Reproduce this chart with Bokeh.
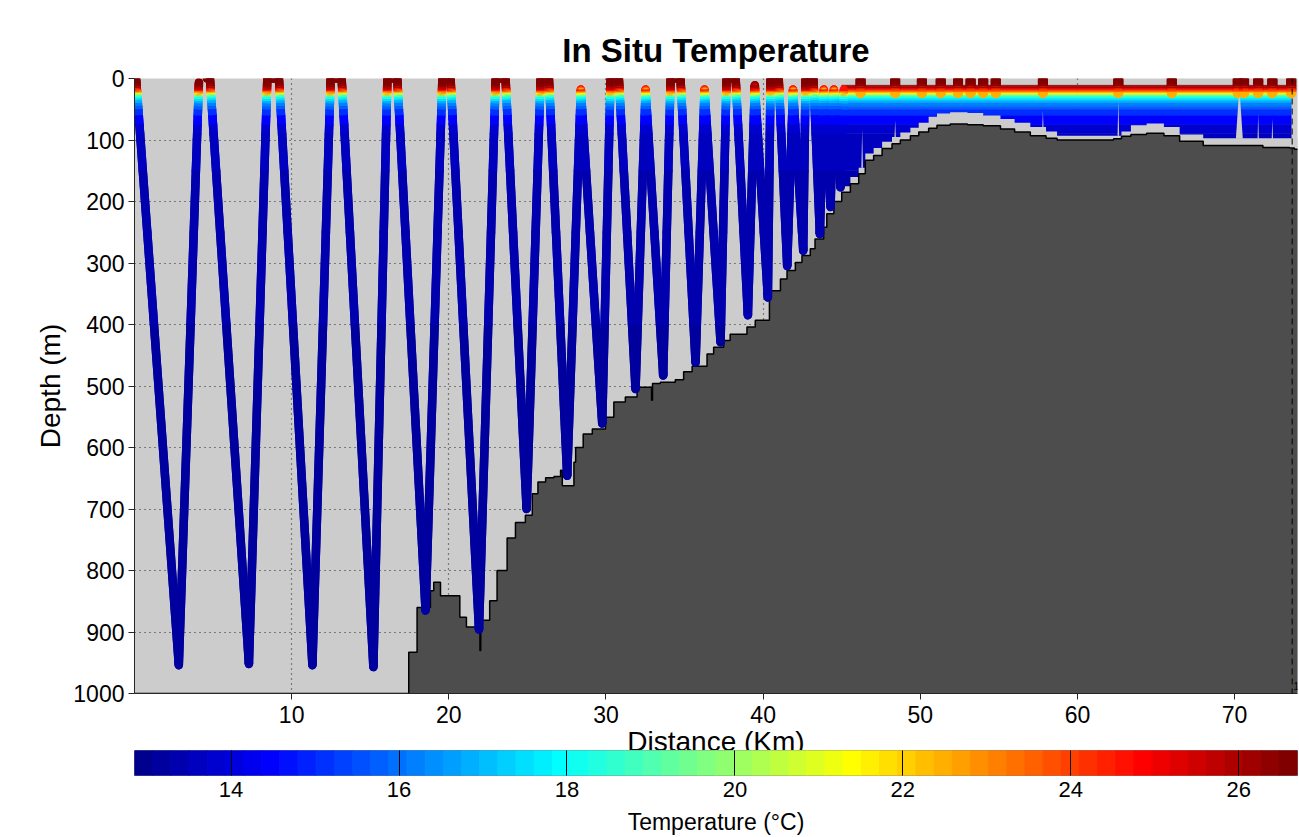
import numpy as np
from bokeh.plotting import figure
from bokeh.models import Range1d, FixedTicker, LinearColorMapper, Span, ColumnDataSource
from bokeh.transform import transform
from bokeh.layouts import column
from bokeh.embed import file_html
from bokeh.resources import INLINE

# ---------------- data ----------------
# temperature profile (depth m -> deg C)
prof_depth = [0, 5, 10, 13, 16, 18, 20, 22, 24, 26, 28, 30, 33, 36, 40, 45, 50, 60, 75, 90, 100, 150, 250, 400, 1000]
prof_temp = [26.8, 26.7, 26.5, 26.2, 25.6, 25.0, 24.2, 23.0, 21.8, 20.6, 19.5, 18.6, 17.8, 17.1, 16.5, 16.0,
             15.6, 14.8, 14.0, 13.75, 13.6, 13.45, 13.35, 13.25, 13.1]

# glider path turning points (distance km, depth m); nan = break
dive_km = [0.10, 2.82, 4.10, np.nan, 4.60, 4.80, 7.28, 8.45, 9.19, 11.32, 12.48, 13.18, 15.20, 16.09, 16.72,
           18.52, 19.59, 20.11, 21.92, 22.98, 23.61, 24.95, 25.84, 26.37, 27.53, 28.40, 29.76, 30.29, 30.82,
           31.88, 32.52, 33.64, 34.11, 34.74, 35.70, 36.27, 37.29, 37.67, 38.25, 39.03, 39.47, 40.30, 40.47,
           40.99, 41.53, 41.90, 42.55, 42.70, 43.20, 43.61, 43.86, 44.29, 44.50, 44.92, 45.13]
dive_depth = [0, 954, 6, np.nan, 0, 0, 952, 0, 0, 954, 0, 0, 957, 0, 0,
              865, 0, 0, 896, 0, 0, 700, 0, 0, 646, 18, 561, 0, 0,
              505, 18, 483, 0, 0, 462, 18, 429, 0, 0, 385, 11, 356, 0,
              0, 305, 18, 280, 0, 0, 253, 18, 209, 18, 177, 18]

# shelf section: continuous profiling band
band_start_km = 45.0
band_end_km = 73.6
band_top_depth = 11
floor_km = [45.0, 45.55, 46.08, 46.5, 47.03, 47.57, 48.2, 48.73, 49.37, 49.9, 50.53, 51.06, 51.9, 53.0, 54.0,
            55.1, 56.0, 57.0, 58.0, 58.7, 62.3, 62.8, 63.4, 64.4, 65.5, 66.5, 68.0, 73.6, 74.1]
floor_depth = [175, 160, 145, 122, 113, 103, 95, 88, 80, 72, 62, 57, 55, 56, 60,
               66, 72, 79, 86, 93, 93, 86, 76, 73, 79, 91, 97, 98, 98]

# surfacings on the shelf
blob_km = [46.2, 48.4, 50.1, 51.3, 52.4, 53.2, 54.0, 54.8, 57.8, 62.6, 66.0, 70.2, 70.6, 71.5, 72.4, 73.6]
blob_depth = 24

# data gaps (spikes) in the shelf band
gap_km = [46.3, 48.4, 57.8, 62.6, 70.3, 71.5, 72.4]
gap_top = [82, 68, 52, 33, 14, 57, 65]
gap_base = [145, 100, 82, 93, 98, 98, 98]
gap_halfwidth = [0.05, 0.05, 0.04, 0.05, 0.22, 0.04, 0.04]

# bathymetry (step, distance km -> depth m)
bathy_km = [0, 17.45, 17.98, 18.83, 19.04, 19.47, 20.70, 21.12, 21.98, 22.03, 22.12, 22.60, 23.07, 23.71,
            24.24, 24.87, 25.31, 25.67, 26.16, 26.69, 27.11, 27.22, 27.96, 28.07, 28.55, 29.13, 29.97,
            30.5, 31.23, 31.98, 32.90, 32.96, 33.46, 34.41, 34.94, 35.48, 36.43, 36.85, 37.49, 37.9,
            38.97, 39.5, 40.4, 41.1, 41.52, 42.05, 42.47, 43.0, 43.3, 43.85, 44.05, 44.5, 45.0, 45.55,
            46.08, 46.5, 47.03, 47.57, 48.2, 48.73, 49.37, 49.9, 50.53, 51.06, 51.9, 53.0, 54.0, 55.1,
            56.0, 57.0, 58.0, 58.7, 62.3, 62.8, 63.4, 64.4, 65.5, 66.5, 68.0, 71.8, 73.5, 73.8, 74.2]
bathy_depth = [1000, 933, 860, 833, 819, 841, 876, 892, 930, 892, 881, 849, 800, 747,
               722, 710, 675, 656, 649, 647, 637, 662, 624, 600, 578, 570, 551,
               526, 518, 502, 523, 496, 494, 490, 477, 468, 448, 437, 426, 416,
               404, 393, 345, 326, 312, 299, 288, 277, 261, 242, 220, 200, 185, 171,
               155, 133, 125, 114, 106, 100, 93, 87, 81, 76, 74, 75, 77, 82,
               87, 93, 97, 100, 98, 94, 91, 89, 93, 102, 109, 112, 113, 115, 115]

marker_km = 73.66
marker_text = "1"

x_ticks = [10, 20, 30, 40, 50, 60, 70]
y_ticks = [0, 100, 200, 300, 400, 500, 600, 700, 800, 900, 1000]
cbar_ticks = [14, 16, 18, 20, 22, 24, 26]
T_LOW, T_HIGH = 12.85, 26.7


# ---------------- helpers ----------------
def jet(m=64):
    n = m // 4
    u = np.concatenate([np.arange(1, n + 1) / n, np.ones(n - 1), np.arange(n, 0, -1) / n])
    g = int(np.ceil(n / 2)) - (1 if m % 4 == 1 else 0) + np.arange(1, len(u) + 1)
    r = g + n
    b = g - n
    J = np.zeros((m, 3))
    k = r <= m
    J[r[k] - 1, 0] = u[k]
    k = g <= m
    J[g[k] - 1, 1] = u[k]
    k = b >= 1
    J[b[k] - 1, 2] = u[k]
    return ["#%02x%02x%02x" % tuple(int(round(c * 255)) for c in row) for row in J]


JET = jet(64)
mapper = LinearColorMapper(palette=JET, low=T_LOW, high=T_HIGH)


def temp_at(d):
    return float(np.interp(d, prof_depth, prof_temp))


def leg_segments(xs, ds):
    out = []
    for i in range(len(xs) - 1):
        x0, d0, x1, d1 = xs[i], ds[i], xs[i + 1], ds[i + 1]
        if any(np.isnan(v) for v in (x0, d0, x1, d1)):
            continue
        if d0 == d1:
            pts = [(x0, d0), (x1, d1)]
        else:
            lo, hi = min(d0, d1), max(d0, d1)
            cuts = sorted([lv for lv in prof_depth if lo < lv < hi], reverse=d0 > d1)
            dd = [d0] + cuts + [d1]
            pts = [(x0 + (x1 - x0) * (d - d0) / (d1 - d0), d) for d in dd]
        for a, b in zip(pts[:-1], pts[1:]):
            out.append((a[0], a[1], b[0], b[1], 0.5 * (temp_at(a[1]) + temp_at(b[1]))))
    return out


segs = leg_segments(dive_km, dive_depth)
blob_segs = []
for k in blob_km:
    blob_segs += leg_segments([k, k], [0, blob_depth])


def seg_source(s):
    return ColumnDataSource(dict(x0=[v[0] for v in s], y0=[v[1] for v in s],
                                 x1=[v[2] for v in s], y1=[v[3] for v in s], t=[v[4] for v in s]))


FONT = "Liberation Sans"

# ---------------- main figure ----------------
p = figure(width=1299, height=768, x_range=Range1d(0, 74.0), y_range=Range1d(1000, 0),
           toolbar_location=None, output_backend="svg",
           min_border_left=134, min_border_right=2, min_border_top=78, min_border_bottom=75)
p.title.text = "In Situ Temperature"
p.title.align = "center"
p.title.text_font = FONT
p.title.text_font_size = "33px"
p.title.text_font_style = "bold"
p.title.text_color = "black"
p.title.standoff = 19
p.background_fill_color = "#cccccc"
p.border_fill_color = "white"
p.outline_line_color = None

p.xaxis.ticker = FixedTicker(ticks=x_ticks)
p.yaxis.ticker = FixedTicker(ticks=y_ticks)
p.xgrid.ticker = FixedTicker(ticks=x_ticks)
p.ygrid.ticker = FixedTicker(ticks=y_ticks)
p.grid.grid_line_color = "#262626"
p.grid.grid_line_dash = "1 4"
p.grid.grid_line_width = 1.2
p.axis.major_label_text_font = FONT
p.axis.major_label_text_font_size = "23px"
p.axis.major_label_text_color = "black"
p.axis.axis_line_color = "#262626"
p.axis.major_tick_line_color = "#262626"
p.axis.major_tick_out = 6
p.axis.major_tick_in = 0
p.axis.minor_tick_line_color = None
p.xaxis.major_label_standoff = 6
p.yaxis.major_label_standoff = 4
p.xaxis.axis_label = "Distance (Km)"
p.yaxis.axis_label = "Depth (m)"
p.axis.axis_label_text_font = FONT
p.axis.axis_label_text_font_size = "28px"
p.axis.axis_label_text_font_style = "normal"
p.axis.axis_label_text_color = "black"
p.xaxis.axis_label_standoff = 0
p.yaxis.axis_label_standoff = 4

# shelf band (layers of the profile)
edges = [band_top_depth] + [lv for lv in prof_depth if band_top_depth < lv < 200] + [200]
band = ColumnDataSource(dict(top=edges[:-1], bottom=edges[1:],
                             t=[0.5 * (temp_at(a) + temp_at(b)) for a, b in zip(edges[:-1], edges[1:])]))
p.quad(left=band_start_km, right=band_end_km, top="top", bottom="bottom", source=band,
       fill_color=transform("t", mapper), line_color=transform("t", mapper), line_width=0.5)
# below the lowest data on the shelf
p.varea_step(x=floor_km, y1=floor_depth, y2=[200] * len(floor_km), step_mode="after",
             fill_color="#cccccc")
# data gaps
gx = [[k - w, k, k + w] for k, w in zip(gap_km, gap_halfwidth)]
gy = [[b, t, b] for t, b in zip(gap_top, gap_base)]
p.patches(xs=gx, ys=gy, fill_color="#cccccc", line_color=None)

# bathymetry
p.varea_step(x=bathy_km, y1=bathy_depth, y2=[1000] * len(bathy_km), step_mode="after",
             fill_color="#4d4d4d")
p.step(x=bathy_km, y=bathy_depth, mode="after", line_color="black", line_width=1.5)

# glider profiles coloured by temperature
src = seg_source(segs)
p.segment("x0", "y0", "x1", "y1", source=src, line_color=transform("t", mapper),
          line_width=8.5, line_cap="round")
p.segment("x0", "y0", "x1", "y1", source=src, line_color=transform("t", mapper),
          line_width=8.5, line_cap="butt")
bsrc = seg_source(blob_segs)
p.segment("x0", "y0", "x1", "y1", source=bsrc, line_color=transform("t", mapper),
          line_width=10, line_cap="round")
p.segment("x0", "y0", "x1", "y1", source=bsrc, line_color=transform("t", mapper),
          line_width=10, line_cap="butt")

p.add_layout(Span(location=marker_km, dimension="height", line_color="black",
                  line_dash="6 4", line_width=1))
p.text(x=[marker_km + 0.08], y=[995], text=[marker_text], text_font_size="10px",
       text_baseline="bottom", text_color="black")

# ---------------- colour bar ----------------
cb = figure(width=1299, height=87, x_range=Range1d(T_LOW, T_HIGH), y_range=Range1d(0, 1),
            toolbar_location=None, output_backend="svg",
            min_border_left=132, min_border_right=0, min_border_top=0, min_border_bottom=62)
cb.margin = (-18, 0, 0, 0)
ce = np.linspace(T_LOW, T_HIGH, len(JET) + 1)
csrc = ColumnDataSource(dict(left=ce[:-1], right=ce[1:], t=0.5 * (ce[:-1] + ce[1:])))
cb.quad(left="left", right="right", top=1, bottom=0, source=csrc,
        fill_color=transform("t", mapper), line_color=transform("t", mapper), line_width=1)
cb.yaxis.visible = False
cb.grid.visible = False
cb.outline_line_color = "#808080"
cb.xaxis.ticker = FixedTicker(ticks=cbar_ticks)
cb.xaxis.major_tick_in = 25
cb.xaxis.major_tick_out = 0
cb.xaxis.major_tick_line_color = "black"
cb.xaxis.minor_tick_line_color = None
cb.xaxis.axis_line_color = None
cb.xaxis.major_label_text_font = FONT
cb.xaxis.major_label_text_font_size = "22px"
cb.xaxis.major_label_text_color = "black"
cb.xaxis.major_label_standoff = 6
cb.xaxis.axis_label = "Temperature (\u00b0C)"
cb.xaxis.axis_label_text_font = FONT
cb.xaxis.axis_label_text_font_size = "23px"
cb.xaxis.axis_label_text_font_style = "normal"
cb.xaxis.axis_label_text_color = "black"
cb.xaxis.axis_label_standoff = 9

layout = column(p, cb, spacing=0)
open("out.html", "w").write(file_html(layout, INLINE))
